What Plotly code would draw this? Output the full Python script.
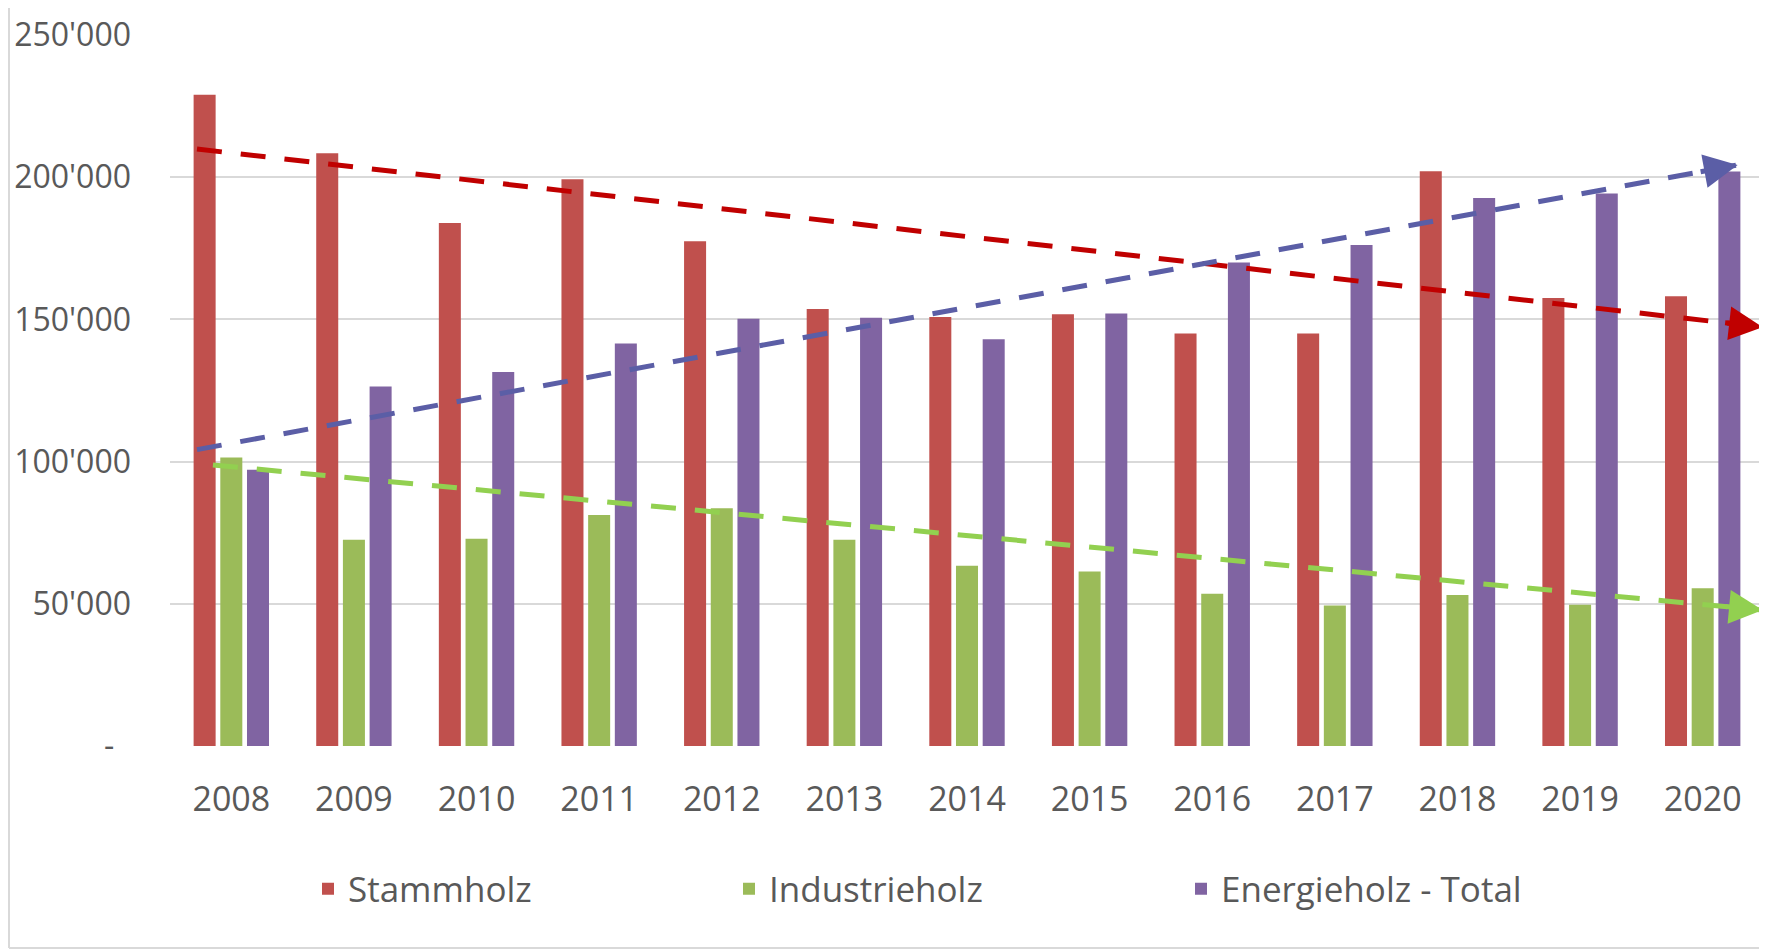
import plotly.graph_objects as go

# ---------------- data ----------------
years = [2008, 2009, 2010, 2011, 2012, 2013, 2014, 2015, 2016, 2017, 2018, 2019, 2020]
stammholz = [229000, 208400, 183900, 199300, 177500, 153700, 150800, 151800, 145000, 145000, 202100, 157500, 158100]
industrieholz = [101400, 72500, 72900, 81200, 83600, 72500, 63400, 61400, 53500, 49400, 53100, 49700, 55500]
energieholz = [97100, 126400, 131500, 141500, 150200, 150600, 143000, 152100, 170000, 176200, 192700, 194300, 202000]

series_names = ["Stammholz", "Industrieholz", "Energieholz - Total"]
series_colors = ["#C0504D", "#9BBB59", "#8064A2"]

# hand-drawn trend arrows (start -> tip), in data units
trend_colors = ["#C00000", "#5B5EA6", "#92D050"]
trend_start_x = [2007.72, 2007.72, 2007.85]
trend_start_y = [209900, 104200, 98800]
trend_end_x = [2020.49, 2020.285, 2020.49]
trend_end_y = [147300, 204300, 47800]

y_tickvals = [0, 50000, 100000, 150000, 200000, 250000]
y_ticktext = ["-\u00a0\u00a0", "50'000", "100'000", "150'000", "200'000", "250'000"]

FONT = "Open Sans"
TXT = "#595959"
GRID = "#D9D9D9"

fig = go.Figure()
legend_widths = [376, 407, None]
for name, vals, col, lw in zip(series_names, [stammholz, industrieholz, energieholz], series_colors, legend_widths):
    kw = {}
    if lw is not None:
        kw["legendwidth"] = lw
    fig.add_trace(go.Bar(x=years, y=vals, name=name, marker=dict(color=col, line=dict(width=0)), **kw))

annotations = []
for col, x0, y0, x1, y1 in zip(trend_colors, trend_start_x, trend_start_y, trend_end_x, trend_end_y):
    fig.add_trace(go.Scatter(
        x=[x0, x1], y=[y0, y1], mode="lines", showlegend=False, hoverinfo="skip",
        line=dict(color=col, width=5, dash="25px,19px"), cliponaxis=False))
    f = 0.975
    annotations.append(dict(
        x=x1, y=y1, xref="x", yref="y",
        ax=x0 + (x1 - x0) * f, ay=y0 + (y1 - y0) * f, axref="x", ayref="y",
        text="", showarrow=True, arrowhead=2, arrowsize=1.35, arrowwidth=5,
        arrowcolor=col, standoff=0))

# page offset (browser body margin)
OFF = 8
W, H = 1767 - OFF, 950 - OFF
L, T = 170 - OFF, 35 - OFF
pw, ph = 1594, 711
R = W - L - pw
B = H - T - ph

def px_x(page_px):
    return (page_px - OFF - L) / pw

def px_y(page_py):
    return (T + ph - (page_py - OFF)) / ph

shapes = [
    dict(type="line", xref="paper", yref="paper", x0=px_x(OFF + 1), x1=px_x(OFF + 1), y0=px_y(948), y1=px_y(OFF),
         line=dict(color=GRID, width=2), layer="below"),
    dict(type="line", xref="paper", yref="paper", x0=px_x(1763), x1=px_x(1763), y0=px_y(948), y1=px_y(OFF),
         line=dict(color=GRID, width=2), layer="below"),
    dict(type="line", xref="paper", yref="paper", x0=px_x(OFF + 1), x1=px_x(1763), y0=px_y(948), y1=px_y(948),
         line=dict(color=GRID, width=2), layer="below"),
]

fig.update_layout(
    width=W, height=H,
    margin=dict(l=L, r=R, t=T, b=B, pad=0),
    paper_bgcolor="white", plot_bgcolor="white",
    font=dict(family=FONT, color=TXT),
    barmode="group", bargap=0.347, bargroupgap=0.175,
    xaxis=dict(type="linear", range=[2007.5, 2020.5], tickvals=years,
               ticktext=[str(y) for y in years], showgrid=False, zeroline=False,
               showline=False, ticks="", tickfont=dict(size=34, color=TXT),
               ticklabelstandoff=30, fixedrange=True),
    yaxis=dict(range=[0, 250000], tickvals=y_tickvals, ticktext=y_ticktext,
               showgrid=True, gridcolor=GRID, gridwidth=2, zeroline=False, showline=False,
               ticks="", tickfont=dict(size=32, color=TXT), ticklabelstandoff=38, fixedrange=True),
    legend=dict(orientation="h", x=px_x(308), xanchor="left", y=px_y(889), yanchor="middle",
                font=dict(size=35, color=TXT), bgcolor="rgba(0,0,0,0)", borderwidth=0,
                traceorder="normal"),
    shapes=shapes,
    annotations=annotations,
    showlegend=True,
)

fig.write_html("out.html")
